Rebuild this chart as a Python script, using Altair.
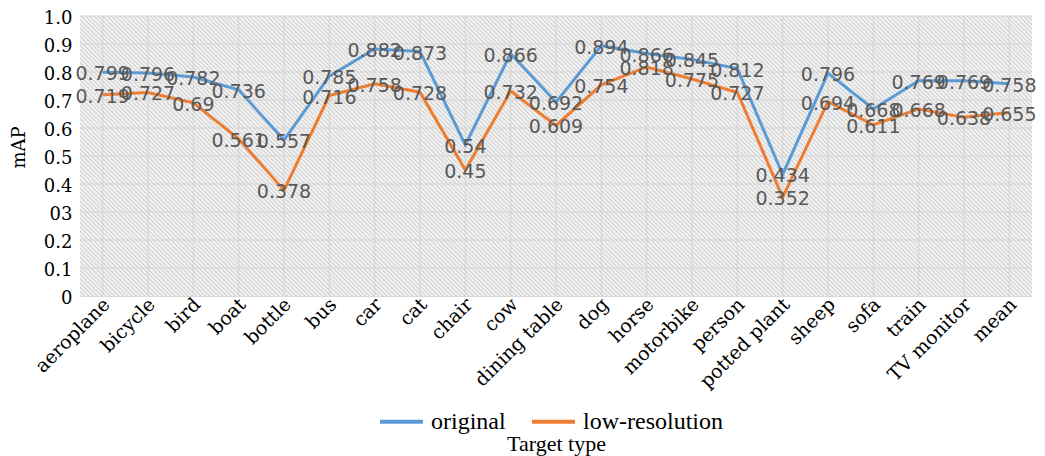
import altair as alt
import pandas as pd

categories = ["aeroplane", "bicycle", "bird", "boat", "bottle", "bus", "car", "cat",
              "chair", "cow", "dining table", "dog", "horse", "motorbike", "person",
              "potted plant", "sheep", "sofa", "train", "TV monitor", "mean"]
original = [0.799, 0.796, 0.782, 0.736, 0.557, 0.785, 0.882, 0.873, 0.54, 0.866,
            0.692, 0.894, 0.866, 0.845, 0.812, 0.434, 0.796, 0.668, 0.769, 0.769, 0.758]
low_res = [0.719, 0.727, 0.69, 0.561, 0.378, 0.716, 0.758, 0.728, 0.45, 0.732,
           0.609, 0.754, 0.818, 0.775, 0.727, 0.352, 0.694, 0.611, 0.668, 0.638, 0.655]
series_names = ["original", "low-resolution"]
series_colors = ["#5b9bd5", "#ed7d31"]
y_ticks = [0, 0.1, 0.2, 0.3, 0.4, 0.5, 0.6, 0.7, 0.8, 0.9, 1.0]
y_tick_labels = ["0", "0.1", "0.2", "03", "0.4", "0.5", "0.6", "0.7", "0.8", "0.9", "1.0"]

W, H = 952, 280

rows = []
for name, vals in zip(series_names, [original, low_res]):
    for c, v in zip(categories, vals):
        rows.append({"cat": c, "series": name, "value": v, "label": str(v)})
df = pd.DataFrame(rows)
bg = pd.DataFrame({"lo": [y_ticks[0]], "hi": [y_ticks[-1]]})
grid_df = pd.DataFrame({"tick": y_ticks[1:]})
cat_df = pd.DataFrame({"cat": categories})

# diagonal hatch as a striped linear gradient
r = H / W
k = (1 + r) / (1 + r * r)
n_periods = int(((W + H) / 2 ** 0.5) / 3.05)
stops = []
for i in range(n_periods):
    stops.append(alt.GradientStop(offset=i / n_periods, color="#d2d2d2"))
    stops.append(alt.GradientStop(offset=(i + 0.5) / n_periods, color="#fbfbfb"))
stops.append(alt.GradientStop(offset=1.0, color="#d2d2d2"))
hatch = alt.LinearGradient(gradient="linear", stops=stops,
                           x1=0, y1=1, x2=k, y2=1 - k * r)

xscale = alt.Scale(domain=categories)
yscale = alt.Scale(domain=[0, 1], nice=False)

label_expr = "[" + ",".join("'%s'" % s for s in y_tick_labels) + "][round(datum.value*10)]"

x_axis = alt.Axis(labelAngle=315, labelAlign="right", labelBaseline="middle",
                  labelPadding=5, labelOffset=4, ticks=False, grid=False, domainColor="#d9d9d9",
                  labelOverlap=False,
                  labelFont="DejaVu Serif", labelFontSize=19, labelColor="#000000",
                  titleFont="Liberation Serif", titleFontSize=22, titleFontWeight="normal",
                  titleColor="#000000", titleY=137, titleBaseline="top")
y_axis = alt.Axis(values=y_ticks, labelExpr=label_expr, ticks=False, grid=False,
                  domain=False, labelPadding=8, labelOverlap=False, labelOffset=2,
                  labelFont="DejaVu Serif", labelFontSize=18, labelColor="#000000",
                  titleFont="DejaVu Serif", titleFontSize=18, titleFontWeight="normal",
                  titleColor="#000000", titleX=-61, titleY=131, titleAlign="center",
                  titleBaseline="middle")

def X(field):
    return alt.X(field, scale=xscale, sort=categories, title="Target type", axis=x_axis)

def Y(field):
    return alt.Y(field, scale=yscale, title="mAP", axis=y_axis)

back = alt.Chart(bg).mark_rect(fill=hatch).encode(y=Y("lo:Q"), y2="hi:Q")
hgrid = alt.Chart(grid_df).mark_rule(color="#d4d4d4", strokeWidth=1).encode(y=Y("tick:Q"))
vgrid = alt.Chart(cat_df).mark_rule(color="#d4d4d4", strokeWidth=1).encode(x=X("cat:N"))

lines = alt.Chart(df).mark_line(strokeWidth=3).encode(
    x=X("cat:N"), y=Y("value:Q"),
    color=alt.Color("series:N", scale=alt.Scale(domain=series_names, range=series_colors),
                    sort=series_names,
                    legend=alt.Legend(title=None, orient="none", direction="horizontal",
                                      legendX=298, legendY=382, symbolType="stroke",
                                      symbolSize=1849, symbolStrokeWidth=4, labelOffset=6,
                                      columnPadding=18, padding=0,
                                      labelFont="Liberation Serif", labelFontSize=24,
                                      labelColor="#000000")),
)
texts = alt.Chart(df).mark_text(font="DejaVu Sans", fontSize=19, color="#595959",
                                dy=2, baseline="middle", align="center").encode(
    x=X("cat:N"), y=Y("value:Q"), text="label:N")

chart = alt.layer(back, hgrid, vgrid, lines, texts).properties(
    width=W, height=H,
    autosize=alt.AutoSizeParams(type="none"),
    padding={"left": 72, "top": 8, "right": 5, "bottom": 160},
    background="#ffffff",
).configure_view(stroke=None)

chart.save("out.html", embed_options={"renderer": "svg", "actions": False})
